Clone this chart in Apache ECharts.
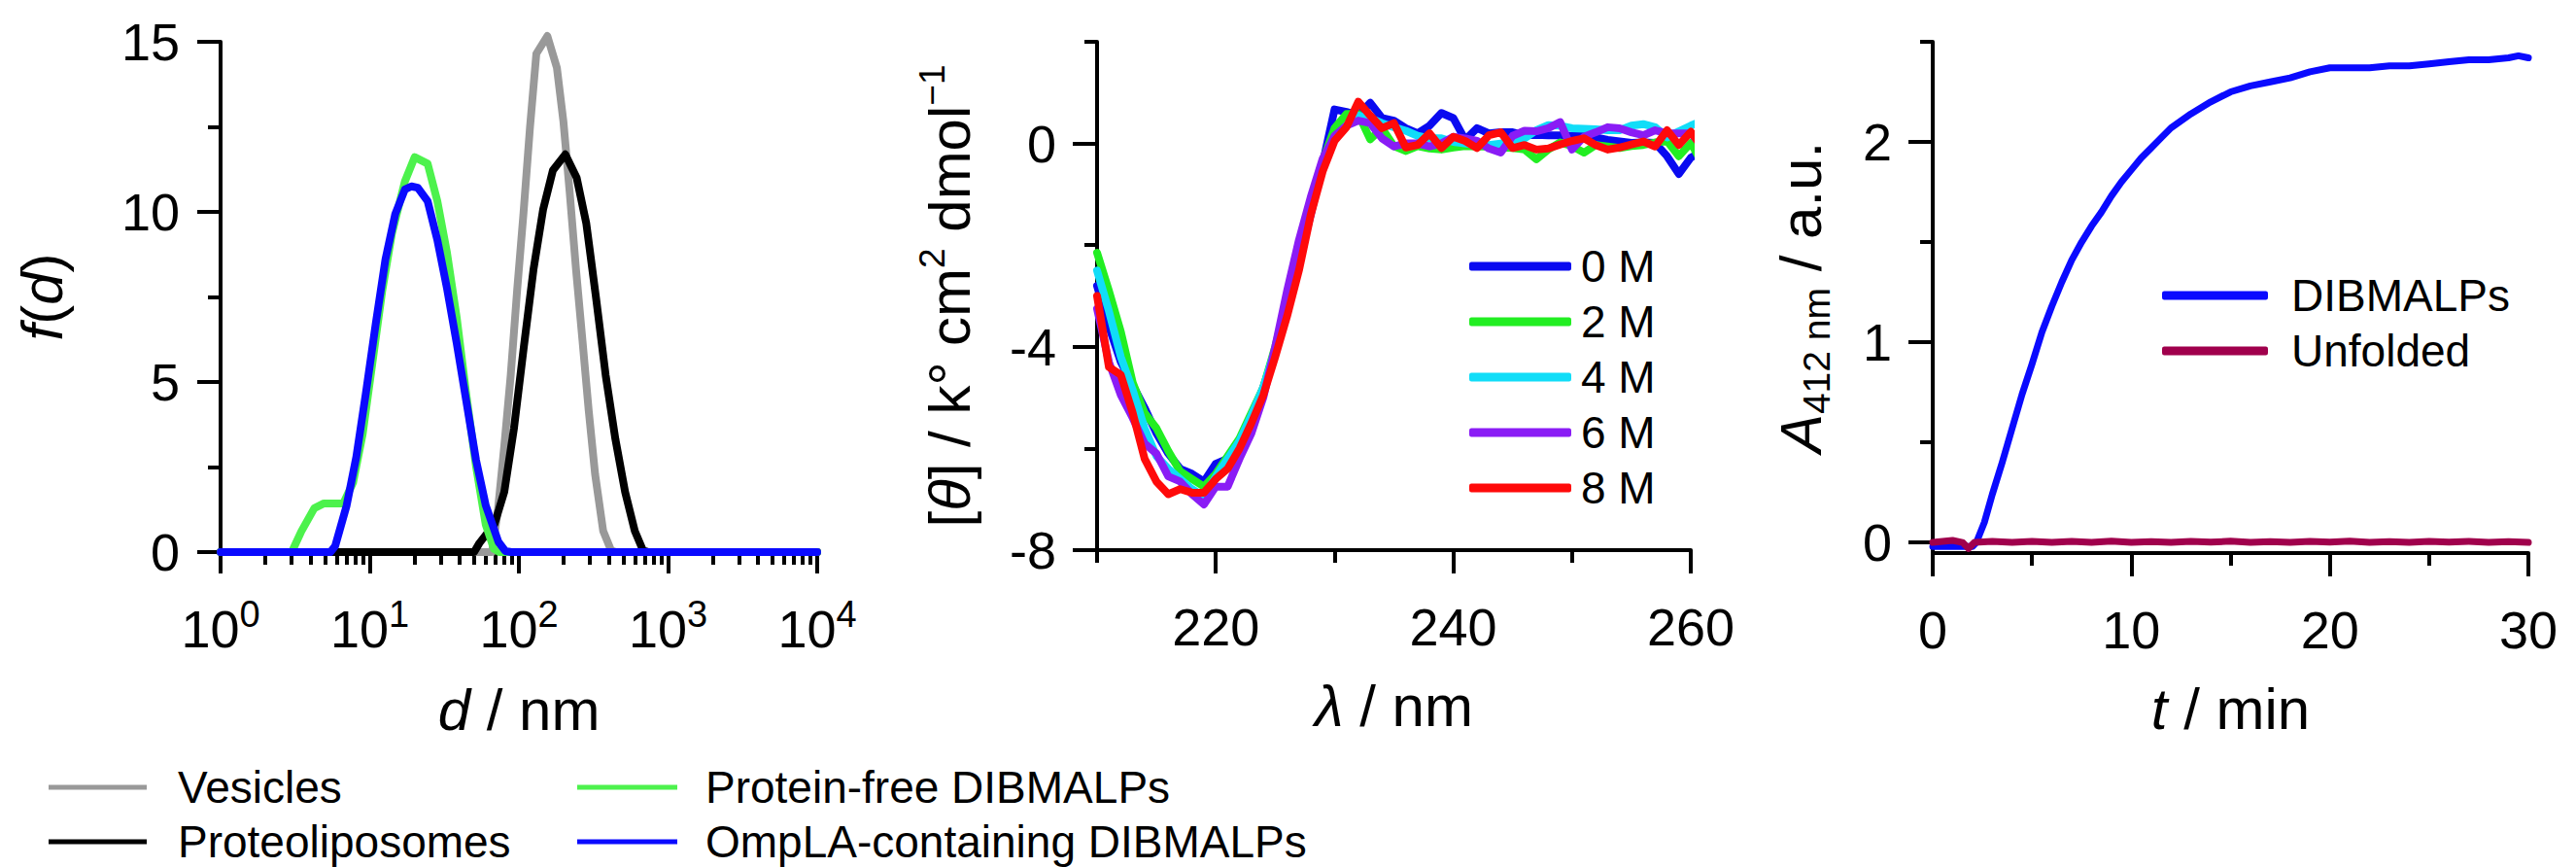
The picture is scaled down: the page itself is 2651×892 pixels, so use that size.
<!DOCTYPE html>
<html><head><meta charset="utf-8">
<script src="https://cdn.jsdelivr.net/npm/echarts@6/dist/echarts.min.js"></script>
<style>html,body{margin:0;padding:0;background:#fff}#c{width:2651px;height:892px}</style>
</head><body><div id="c"></div>
<script>
// ---------- Panel 1: size distributions f(d) ----------
const dVes  = [1, 66, 72.4, 79.8, 88.1, 97.3, 107.4, 118.6, 130.9, 155.2, 179.9, 198.6, 218.8, 241.5, 266.7, 293.8, 324.3, 367.3, 415, 447, 10000];
const fVes  = [0, 0, 1.25, 3.12, 5.19, 7.69, 9.97, 12.47, 14.65, 15.17, 14.23, 12.68, 10.6, 8.31, 6.23, 4.16, 2.29, 0.62, 0.05, 0, 0];
const dPro  = [1, 50.1, 54.3, 68.7, 79.8, 92.7, 107.9, 125.3, 145.5, 169.0, 204.6, 243.8, 283.1, 328.9, 382.0, 443.6, 515.2, 598.4, 679.2, 741, 10000];
const fPro  = [0, 0, 0.26, 0.83, 1.77, 3.64, 6.03, 8.31, 10.08, 11.22, 11.69, 11.01, 9.66, 7.48, 5.19, 3.32, 1.77, 0.62, 0.05, 0, 0];
const dFree = [1, 3.0, 3.48, 4.25, 4.93, 6.65, 7.73, 8.97, 10.42, 12.11, 14.09, 17.22, 20.0, 24.43, 28.38, 32.96, 38.28, 44.46, 51.64, 59.98, 68.08, 74, 10000];
const fFree = [0, 0, 0.61, 1.29, 1.43, 1.43, 2.04, 3.47, 5.56, 7.66, 9.37, 10.9, 11.61, 11.42, 10.32, 8.8, 6.9, 4.61, 2.51, 0.8, 0.09, 0, 0];
const dOmp  = [1, 5.45, 5.87, 7.0, 8.13, 9.44, 10.96, 12.74, 14.83, 17.22, 19.01, 20.99, 24.43, 28.38, 32.96, 38.28, 44.46, 51.64, 59.98, 72.9, 81.1, 89, 10000];
const fOmp  = [0, 0, 0.18, 1.37, 2.8, 4.7, 6.7, 8.6, 9.94, 10.66, 10.75, 10.71, 10.32, 9.18, 7.75, 6.14, 4.42, 2.7, 1.37, 0.3, 0.03, 0, 0];
const p1Names = ['Vesicles', 'Proteoliposomes', 'Protein-free DIBMALPs', 'OmpLA-containing DIBMALPs'];
const p1XTicks = [1, 10, 100, 1000, 10000];
const p1XMinor = [2,3,4,5,6,7,8,9,20,30,40,50,60,70,80,90,200,300,400,500,600,700,800,900,2000,3000,4000,5000,6000,7000,8000,9000];
const p1YTicks = [0, 5, 10, 15];
const p1YMinor = [2.5, 7.5, 12.5];

// ---------- Panel 2: CD spectra ----------
const lam = [210,211,212,213,214,215,216,217,218,219,220,221,222,223,224,225,226,227,228,229,230,231,232,233,234,235,236,237,238,239,240,241,242,243,244,245,246,247,248,249,250,251,252,253,254,255,256,257,258,259,260,261];
const cd0 = [-2.8,-3.6,-4.3,-4.75,-5.2,-5.7,-6.1,-6.4,-6.5,-6.65,-6.3,-6.2,-5.9,-5.4,-4.8,-4.1,-3.2,-2.3,-1.4,-0.4,0.67,0.62,0.55,0.8,0.5,0.45,0.3,0.2,0.35,0.6,0.5,0.07,0.3,0.2,0.22,0.22,0.16,0.17,0.16,0.16,0.15,0.16,0.12,0.07,0.04,0.01,0.02,0.01,-0.25,-0.6,-0.28,-0.15];
const cd2 = [-2.15,-2.9,-3.7,-4.7,-5.3,-5.6,-6.05,-6.45,-6.6,-6.75,-6.5,-6.15,-5.8,-5.3,-4.8,-4.0,-3.1,-2.2,-1.3,-0.35,0.3,0.58,0.58,0.08,0.3,-0.05,-0.15,-0.05,-0.1,-0.12,-0.08,-0.05,-0.06,-0.06,-0.08,-0.09,-0.12,-0.31,-0.12,0.02,-0.05,-0.18,-0.03,-0.06,-0.09,-0.05,-0.03,0.02,0.05,-0.25,0.01,-0.4];
const cd4 = [-2.5,-3.3,-4.2,-4.85,-5.6,-6.15,-6.4,-6.6,-6.8,-6.95,-6.55,-6.2,-5.85,-5.35,-4.8,-4.05,-3.15,-2.2,-1.3,-0.45,0.1,0.35,0.55,0.5,0.4,0.32,0.25,0.15,0.1,0.1,0.03,0.0,-0.02,-0.03,0.0,0.02,0.1,0.26,0.36,0.35,0.3,0.29,0.28,0.26,0.26,0.35,0.38,0.32,0.12,0.24,0.35,0.45];
const cd6 = [-3.25,-4.3,-4.95,-5.4,-5.9,-6.1,-6.55,-6.65,-6.9,-7.1,-6.75,-6.75,-6.2,-5.7,-5.0,-4.0,-2.9,-1.9,-1.05,-0.3,0.15,0.35,0.45,0.4,0.1,-0.06,0.0,0.0,-0.06,0.0,0.13,0.1,0.05,-0.1,-0.18,0.15,0.25,0.24,0.3,0.42,-0.12,0.13,0.22,0.32,0.3,0.22,0.16,0.26,0.2,0.2,0.2,-0.06];
const cd8 = [-3.0,-4.4,-4.55,-5.3,-6.2,-6.65,-6.9,-6.8,-6.87,-6.87,-6.6,-6.4,-6.0,-5.5,-4.95,-4.2,-3.4,-2.5,-1.4,-0.55,0.05,0.32,0.82,0.55,0.3,0.4,-0.08,-0.03,0.2,-0.09,0.13,0.05,-0.09,0.16,0.22,-0.09,-0.03,-0.12,-0.1,-0.02,0.05,0.1,-0.03,-0.12,-0.08,-0.02,0.04,-0.06,0.26,-0.03,0.23,-0.09];
const p2Names = ['0 M', '2 M', '4 M', '6 M', '8 M'];
const p2XTicks = [220, 240, 260];
const p2XMinor = [210, 230, 250];
const p2YTicks = [-8, -4, 0];
const p2YMinor = [-6, -2, 2];

// ---------- Panel 3: kinetics ----------
const tFold = [0,1,2,2.2,2.6,3,3.5,4,4.5,5,5.5,6,6.5,7,7.5,8,8.5,9,9.5,10,10.5,11,11.5,12,13,14,15,16,17,18,19,20,21,22,23,24,25,26,27,28,29,29.5,30];
const aFold = [-0.02,-0.02,-0.02,0.0,0.1,0.24,0.40,0.57,0.74,0.89,1.05,1.18,1.30,1.41,1.50,1.58,1.65,1.73,1.80,1.86,1.92,1.97,2.02,2.07,2.14,2.20,2.25,2.28,2.30,2.32,2.35,2.37,2.37,2.37,2.38,2.38,2.39,2.40,2.41,2.41,2.42,2.43,2.42];
const tUnf = [0,1,1.5,1.8,2.1,3,4,5,6,7,8,9,10,11,12,13,14,15,16,17,18,19,20,21,22,23,24,25,26,27,28,29,30];
const aUnf = [0.0,0.01,0.0,-0.03,0.0,0.005,0.0,0.005,0.0,0.005,0.0,0.006,0.0,0.004,0.0,0.005,0.002,0.006,0.0,0.004,0.0,0.005,0.002,0.006,0.0,0.004,0.0,0.005,0.002,0.005,0.0,0.004,0.0];
const p3Names = ['DIBMALPs', 'Unfolded'];
const p3XTicks = [0, 10, 20, 30];
const p3XMinor = [5, 15, 25];
const p3YTicks = [0, 1, 2];
const p3YMinor = [0.5, 1.5, 2.5];

// ---------- styling ----------
const FONT = 'Liberation Sans, Arial, Helvetica, sans-serif';
const TICK_FS = 54, NAME_FS = 60, AXW = 4;
const zip = (xs, ys) => xs.map((x, i) => [x, ys[i]]);

function mainAxis(o) {
  return Object.assign({
    axisLine: {show: true, onZero: false, lineStyle: {color: '#000', width: AXW}},
    axisTick: {show: true, inside: false, length: o.tickLen, customValues: o.ticks, lineStyle: {color: '#000', width: AXW}},
    axisLabel: {show: true, customValues: o.ticks, margin: o.margin, color: '#000', fontSize: TICK_FS, fontFamily: FONT},
    splitLine: {show: false},
    nameLocation: 'middle',
    nameTextStyle: {color: '#000', fontFamily: FONT, fontSize: NAME_FS}
  }, o.extra);
}
function minorAxis(o) {
  return Object.assign({
    axisLine: {show: false, onZero: false},
    axisTick: {show: true, inside: false, length: o.tickLen, customValues: o.ticks, lineStyle: {color: '#000', width: AXW}},
    axisLabel: {show: false},
    splitLine: {show: false}
  }, o.extra);
}
const richName = {
  n: {fontSize: NAME_FS, fontFamily: FONT, color: '#000', lineHeight: 72},
  i: {fontSize: NAME_FS, fontFamily: FONT, color: '#000', fontStyle: 'italic', lineHeight: 72},
  s: {fontSize: 37, fontFamily: FONT, color: '#000', verticalAlign: 'top', lineHeight: 37},
  b: {fontSize: 39, fontFamily: FONT, color: '#000', verticalAlign: 'bottom', lineHeight: 39}
};

const xAxis = [
  mainAxis({ticks: p1XTicks, tickLen: 22, margin: 45, extra: {type: 'log', logBase: 10, gridIndex: 0, min: 1, max: 10000, position: 'bottom',
    name: '{i|d}{n| / nm}', nameGap: 126, nameTextStyle: {rich: richName}}}),
  minorAxis({ticks: p1XMinor, tickLen: 13, extra: {type: 'log', logBase: 10, gridIndex: 0, min: 1, max: 10000, position: 'bottom'}}),
  mainAxis({ticks: p2XTicks, tickLen: 24, margin: 52, extra: {type: 'value', gridIndex: 1, min: 210, max: 260, position: 'bottom',
    name: '{i|λ}{n| / nm}', nameGap: 124, nameTextStyle: {rich: richName}}}),
  minorAxis({ticks: p2XMinor, tickLen: 13, extra: {type: 'value', gridIndex: 1, min: 210, max: 260, position: 'bottom'}}),
  mainAxis({ticks: p3XTicks, tickLen: 24, margin: 52, extra: {type: 'value', gridIndex: 2, min: 0, max: 30, position: 'bottom',
    name: '{i|t}{n| / min}', nameGap: 124, nameTextStyle: {rich: richName}}}),
  minorAxis({ticks: p3XMinor, tickLen: 13, extra: {type: 'value', gridIndex: 2, min: 0, max: 30, position: 'bottom'}})
];
// superscript log labels
xAxis[0].axisLabel.formatter = v => '{m|10}{e|' + Math.round(Math.log10(v)) + '}';
xAxis[0].axisLabel.rich = {
  m: {fontSize: TICK_FS, fontFamily: FONT, color: '#000', lineHeight: 68},
  e: {fontSize: 38, fontFamily: FONT, color: '#000', verticalAlign: 'top', lineHeight: 38}
};

const yAxis = [
  mainAxis({ticks: p1YTicks, tickLen: 24, margin: 42, extra: {type: 'value', gridIndex: 0, min: 0, max: 15, position: 'left',
    name: '{i|f}{n|(}{i|d}{n|)}', nameGap: 148, nameRotate: 90, nameTextStyle: {rich: richName}}}),
  minorAxis({ticks: p1YMinor, tickLen: 13, extra: {type: 'value', gridIndex: 0, min: 0, max: 15, position: 'left'}}),
  mainAxis({ticks: p2YTicks, tickLen: 25, margin: 42, extra: {type: 'value', gridIndex: 1, min: -8, max: 2, position: 'left',
    name: '{n|[}{i|θ}{n|] / k° cm}{s|2}{n| dmol}{s|−1}', nameGap: 116, nameRotate: 90, nameTextStyle: {rich: richName}}}),
  minorAxis({ticks: p2YMinor, tickLen: 13, extra: {type: 'value', gridIndex: 1, min: -8, max: 2, position: 'left'}}),
  mainAxis({ticks: p3YTicks, tickLen: 25, margin: 42, extra: {type: 'value', gridIndex: 2, min: -0.053, max: 2.5, position: 'left',
    name: '{i|A}{b|412 nm}{n| / a.u.}', nameGap: 100, nameRotate: 90, nameTextStyle: {rich: richName}}}),
  minorAxis({ticks: p3YMinor, tickLen: 13, extra: {type: 'value', gridIndex: 2, min: -0.053, max: 2.5, position: 'left'}})
];

function line(name, data, color, xi, width) {
  return {name, type: 'line', data, xAxisIndex: xi, yAxisIndex: xi, color, showSymbol: false, symbol: 'none', clip: false,
    lineStyle: {color, width, join: 'round', cap: 'round'}, itemStyle: {color}, emphasis: {disabled: true}, animation: false};
}

const series = [
  line(p1Names[0], zip(dVes, fVes), '#999999', 0, 8),
  line(p1Names[1], zip(dPro, fPro), '#000000', 0, 8),
  line(p1Names[2], zip(dFree, fFree), '#4df24d', 0, 8),
  line(p1Names[3], zip(dOmp, fOmp), '#0a0aff', 0, 8),
  line(p2Names[0], zip(lam, cd0), '#0a0af0', 2, 8),
  line(p2Names[1], zip(lam, cd2), '#22ee22', 2, 8),
  line(p2Names[2], zip(lam, cd4), '#11ddf8', 2, 8),
  line(p2Names[3], zip(lam, cd6), '#8a1cf5', 2, 8),
  line(p2Names[4], zip(lam, cd8), '#ff0a0a', 2, 8),
  line(p3Names[0], zip(tFold, aFold), '#0a0aff', 4, 7),
  line(p3Names[1], zip(tUnf, aUnf), '#a0004c', 4, 7)
];

const legTxt = (fs, padL) => ({color: '#000', fontFamily: FONT, fontSize: fs, lineHeight: fs, padding: [0, 0, 0, padL]});
const bottomLeg = (name, left, top, w, padL) => ({data: [name], orient: 'vertical', left, top, padding: 0,
  itemWidth: w, itemHeight: 5, icon: 'rect', textStyle: legTxt(46, padL), selectedMode: false});
const legend = [
  bottomLeg(p1Names[0], 50, 787, 101, 27),
  bottomLeg(p1Names[1], 50, 843, 101, 27),
  bottomLeg(p1Names[2], 594, 787, 103, 24),
  bottomLeg(p1Names[3], 594, 843, 103, 24),
  {data: p2Names, orient: 'vertical', left: 1512, top: 251, padding: 0, itemWidth: 105, itemHeight: 9, icon: 'roundRect', itemGap: 11, textStyle: legTxt(46, 5), selectedMode: false},
  {data: p3Names, orient: 'vertical', left: 2225, top: 281, padding: 0, itemWidth: 109, itemHeight: 9, icon: 'roundRect', itemGap: 11, textStyle: legTxt(46, 19), selectedMode: false}
];

const chart = echarts.init(document.getElementById('c'), null, {renderer: 'svg', width: 2651, height: 892});
chart.setOption({
  backgroundColor: '#ffffff',
  animation: false,
  textStyle: {fontFamily: FONT},
  grid: [
    {left: 227, top: 43, width: 614, height: 525},
    {left: 1129, top: 43, width: 611, height: 523},
    {left: 1989, top: 43, width: 613, height: 526}
  ],
  xAxis, yAxis, legend, series
});
</script></body></html>
